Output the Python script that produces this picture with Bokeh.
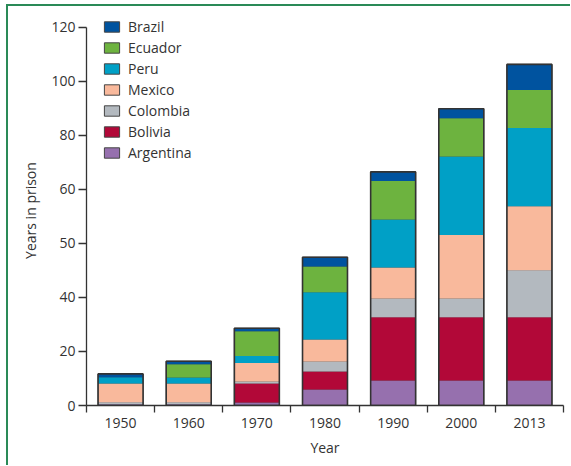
from bokeh.plotting import figure
from bokeh.models import ColumnDataSource, FixedTicker, Range1d, Legend, LegendItem
from bokeh.embed import file_html
from bokeh.resources import INLINE

# ---------------- data ----------------
years = ["1950", "1960", "1970", "1980", "1990", "2000", "2013"]
countries = ["Argentina", "Bolivia", "Colombia", "Mexico", "Peru", "Ecuador", "Brazil"]
argentina = [0.5, 0.5, 1.1, 5.9, 9.3, 9.3, 9.3]
bolivia = [0.0, 0.0, 7.0, 6.7, 23.4, 23.4, 23.4]
colombia = [0.7, 0.7, 0.8, 3.7, 6.9, 6.9, 17.4]
mexico = [6.9, 6.9, 6.8, 8.1, 11.5, 23.5, 23.7]
peru = [2.4, 2.3, 2.6, 17.5, 17.8, 29.1, 28.9]
ecuador = [0.0, 4.9, 9.2, 9.6, 14.2, 14.2, 14.1]
brazil = [1.2, 1.1, 1.1, 3.4, 3.4, 3.5, 9.5]
y_tick_values = [0, 20, 40, 60, 80, 100, 120, 140]
y_tick_labels = ["0", "20", "40", "50", "60", "80", "100", "120"]

colors = ["#9670ae", "#b20838", "#b3b9bf", "#f9b99c", "#00a0c6", "#6db33f", "#00539f"]
series = [argentina, bolivia, colombia, mexico, peru, ecuador, brazil]

FONT = "Open Sans"
TXT = "#333333"

x_pos = [i + 0.5 for i in range(len(years))]
data = {"x": x_pos}
for name, vals in zip(countries, series):
    data[name] = vals
data["total"] = [sum(v) for v in zip(*series)]
src = ColumnDataSource(data)

p = figure(width=562, height=452, output_backend="svg", toolbar_location=None,
           x_range=Range1d(0, len(years)), y_range=Range1d(0, 144.4),
           min_border_left=78, min_border_right=7, min_border_top=9, min_border_bottom=53,
           frame_width=477, frame_height=390)
p.outline_line_color = None
p.grid.visible = False
p.background_fill_color = None
p.border_fill_color = None
p.styles = {"border-top": "2px solid #2a8a57", "border-left": "2px solid #2a8a57",
            "margin-top": "4px", "margin-left": "6px", "padding-bottom": "6px"}

bar_w = 0.66
# outlined stack (used for the legend swatches; hidden under the plain stack)
legend_stack = p.vbar_stack(countries, x="x", width=bar_w, color=colors,
                            line_color="#444444", line_width=1, source=src)
# plain stack drawn on top
p.vbar_stack(countries, x="x", width=bar_w, color=colors, line_color=None, source=src)
# outline of each whole bar
p.vbar(x="x", top="total", bottom=0, width=bar_w, source=src, fill_color=None,
       line_color="#333333", line_width=1.6)

items = [LegendItem(label=name, renderers=[r]) for name, r in zip(countries, legend_stack)]
items = items[::-1]
legend = Legend(items=items, location=(16, 243), padding=0, margin=0,
                border_line_color=None, background_fill_alpha=0,
                glyph_width=19, glyph_height=13, label_height=13, label_standoff=7,
                spacing=2, label_text_font=FONT, label_text_font_size="14px",
                label_text_color=TXT)
p.add_layout(legend, "center")

# axes
xa = p.xaxis[0]
xa.ticker = FixedTicker(ticks=x_pos, minor_ticks=list(range(len(years) + 1)))
xa.major_label_overrides = {x: y for x, y in zip(x_pos, years)}
xa.major_tick_out = 0
xa.major_tick_in = 0
xa.minor_tick_out = 7
xa.minor_tick_in = 0
xa.minor_tick_line_color = TXT
xa.minor_tick_line_width = 1.3
xa.axis_label = "Year"

ya = p.yaxis[0]
ya.ticker = FixedTicker(ticks=y_tick_values, minor_ticks=[])
ya.major_label_overrides = {v: l for v, l in zip(y_tick_values, y_tick_labels)}
ya.major_tick_out = 8
ya.major_tick_in = 0
ya.bounds = (0, 140)
ya.axis_label = "Years in prison"

for ax in (xa, ya):
    ax.axis_line_color = TXT
    ax.axis_line_width = 1.3
    ax.major_tick_line_color = TXT
    ax.major_tick_line_width = 1.3
    ax.major_label_text_font = FONT
    ax.major_label_text_font_size = "14px"
    ax.major_label_text_color = TXT
    ax.axis_label_text_font = FONT
    ax.axis_label_text_font_size = "14px"
    ax.axis_label_text_font_style = "normal"
    ax.axis_label_text_color = TXT
xa.major_label_standoff = 5
xa.axis_label_standoff = 7
ya.major_label_standoff = 3
ya.axis_label_standoff = 8

open("out.html", "w").write(file_html(p, INLINE))
